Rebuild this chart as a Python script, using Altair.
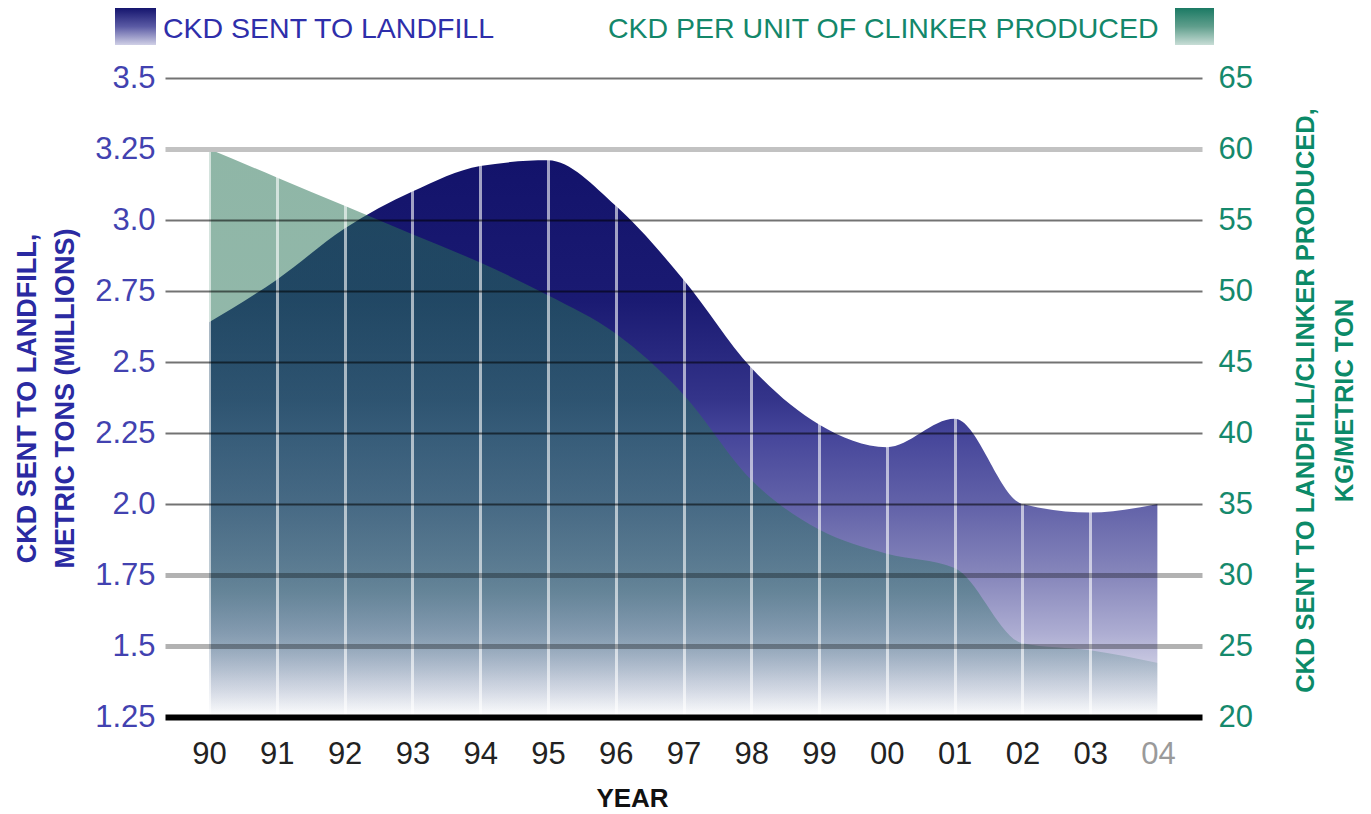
import altair as alt
import pandas as pd

# ---- data ----
years = ["90", "91", "92", "93", "94", "95", "96", "97", "98", "99", "00", "01", "02", "03", "04"]
landfill = [2.64, 2.79, 2.97, 3.10, 3.19, 3.21, 3.05, 2.79, 2.48, 2.28, 2.20, 2.30, 2.00, 1.97, 2.00]
per_clinker = [60.0, 58.0, 56.0, 54.0, 52.0, 49.7, 47.0, 42.7, 36.7, 33.2, 31.5, 30.5, 25.2, 24.7, 23.8]
left_ticks = [1.25, 1.5, 1.75, 2.0, 2.25, 2.5, 2.75, 3.0, 3.25, 3.5]
right_ticks = [20, 25, 30, 35, 40, 45, 50, 55, 60, 65]
legend_labels = ["CKD SENT TO LANDFILL", "CKD PER UNIT OF CLINKER PRODUCED"]
left_title = ["CKD SENT TO LANDFILL,", "METRIC TONS (MILLIONS)"]
right_title = ["CKD SENT TO LANDFILL/CLINKER PRODUCED,", "KG/METRIC TON"]
x_title = "YEAR"

df = pd.DataFrame({"year": years, "landfill": landfill, "clinker": per_clinker})
one = pd.DataFrame({"a": [0]})

FONT = "Liberation Sans, Arial, sans-serif"
W, H = 1037, 639

navy_grad = alt.Gradient(
    gradient="linear", x1=0, x2=0, y1=0, y2=1,
    stops=[
        alt.GradientStop(color="#13136b", offset=0),
        alt.GradientStop(color="#1a1a72", offset=0.25),
        alt.GradientStop(color="#34348a", offset=0.43),
        alt.GradientStop(color="#45459a", offset=0.49),
        alt.GradientStop(color="#6565aa", offset=0.63),
        alt.GradientStop(color="#8888bc", offset=0.75),
        alt.GradientStop(color="#adadd2", offset=0.85),
        alt.GradientStop(color="#e0e0ee", offset=0.95),
        alt.GradientStop(color="#ffffff", offset=1),
    ],
)
green_grad = alt.Gradient(
    gradient="linear", x1=0, x2=0, y1=0, y2=1,
    stops=[
        alt.GradientStop(color="rgba(40,115,85,0.52)", offset=0),
        alt.GradientStop(color="rgba(40,115,88,0.50)", offset=0.5),
        alt.GradientStop(color="rgba(40,115,95,0.42)", offset=0.78),
        alt.GradientStop(color="rgba(40,115,100,0.28)", offset=0.87),
        alt.GradientStop(color="rgba(40,115,100,0.10)", offset=0.94),
        alt.GradientStop(color="rgba(40,115,100,0.0)", offset=1),
    ],
)
navy_swatch = alt.Gradient(
    gradient="linear", x1=0, x2=0, y1=0, y2=1,
    stops=[alt.GradientStop(color="#15156e", offset=0),
           alt.GradientStop(color="#5a5aa4", offset=0.5),
           alt.GradientStop(color="#d0d0e6", offset=1)],
)
green_swatch = alt.Gradient(
    gradient="linear", x1=0, x2=0, y1=0, y2=1,
    stops=[alt.GradientStop(color="#1b7a64", offset=0),
           alt.GradientStop(color="#5f9e8c", offset=0.5),
           alt.GradientStop(color="#c8ddd6", offset=1)],
)

x_enc = alt.X(
    "year:O", sort=years,
    scale=alt.Scale(type="point", padding=0.65),
    axis=alt.Axis(
        title=x_title, labelAngle=0, labelFont=FONT, labelFontSize=31,
        labelColor={"condition": {"test": "datum.value == '04'", "value": "#9a9a9a"}, "value": "#222222"},
        labelPadding=46, labelBaseline="alphabetic",
        ticks=False, tickSize=0, domain=False,
        grid=True, gridColor="#ffffff", gridOpacity=0.6, gridWidth=3,
        titleFont=FONT, titleFontWeight="bold", titleFontSize=26, titleColor="#111111",
        titleX=467, titleY=89, titleBaseline="alphabetic", titleAlign="center",
        zindex=1,
    ),
)

grid_color = {
    "condition": [
        {"test": "abs(datum.value - 3.25) < 0.01", "value": "#c2c2c2"},
        {"test": "abs(datum.value - 1.25) < 0.01", "value": "#000000"},
        {"test": "datum.value > 1.3 && datum.value < 1.8", "value": "rgba(0,0,0,0.3)"},
    ],
    "value": "rgba(0,0,0,0.55)",
}
grid_width = {
    "condition": [
        {"test": "abs(datum.value - 3.25) < 0.01", "value": 5},
        {"test": "abs(datum.value - 1.25) < 0.01", "value": 6},
        {"test": "datum.value > 1.3 && datum.value < 1.8", "value": 5},
    ],
    "value": 2,
}

area_landfill = alt.Chart(df).mark_area(fill=navy_grad, interpolate="monotone").encode(
    x=x_enc,
    y=alt.Y(
        "landfill:Q",
        scale=alt.Scale(domain=[left_ticks[0], left_ticks[-1]], nice=False, zero=False),
        axis=alt.Axis(
            orient="left", values=left_ticks,
            labelExpr="datum.value % 0.5 == 0 ? format(datum.value, '.1f') : format(datum.value, '.2f')",
            labelFont=FONT, labelFontSize=31, labelColor="#4242b0", labelPadding=10,
            ticks=False, tickSize=0, domain=False,
            grid=True, gridColor=grid_color, gridWidth=grid_width,
            title=left_title, titleAngle=270, titleX=-130, titleY=320,
            titleBaseline="alphabetic", titleAlign="center",
            titleFont=FONT, titleFontWeight="bold", titleFontSize=27,
            titleColor="#2a2aa2", titleLineHeight=38,
            zindex=2,
        ),
    ),
    y2=alt.datum(left_ticks[0]),
)

area_clinker = alt.Chart(df).mark_area(fill=green_grad, interpolate="monotone").encode(
    x=alt.X("year:O", sort=years),
    y=alt.Y(
        "clinker:Q",
        scale=alt.Scale(domain=[right_ticks[0], right_ticks[-1]], nice=False, zero=False),
        axis=alt.Axis(
            orient="right", values=right_ticks,
            labelFont=FONT, labelFontSize=31, labelColor="#15896c", labelPadding=16,
            ticks=False, tickSize=0, domain=False, grid=False,
            title=right_title, titleAngle=270, titleX=111, titleY=322,
            titleBaseline="alphabetic", titleAlign="center",
            titleFont=FONT, titleFontWeight="bold", titleFontSize=25.5,
            titleColor="#0b8a68", titleLineHeight=39,
        ),
    ),
    y2=alt.datum(right_ticks[0]),
)

sw1 = alt.Chart(one).mark_rect(fill=navy_swatch).encode(
    x=alt.value(-50), x2=alt.value(-9), y=alt.value(-70), y2=alt.value(-33))
sw2 = alt.Chart(one).mark_rect(fill=green_swatch).encode(
    x=alt.value(1010), x2=alt.value(1049), y=alt.value(-70), y2=alt.value(-33))
t1 = alt.Chart(one).mark_text(
    text=legend_labels[0], font=FONT, fontSize=28.5, color="#2e2eaa",
    align="left", baseline="alphabetic").encode(x=alt.value(-2), y=alt.value(-40))
t2 = alt.Chart(one).mark_text(
    text=legend_labels[1], font=FONT, fontSize=28.5, color="#13876a",
    align="left", baseline="alphabetic").encode(x=alt.value(443), y=alt.value(-40))

chart = alt.layer(area_landfill, area_clinker, sw1, sw2, t1, t2).resolve_scale(
    y="independent"
).properties(
    width=W, height=H,
    autosize=alt.AutoSizeParams(type="none"),
    padding={"left": 157, "top": 70, "right": 158, "bottom": 96},
    background="white",
).configure_view(stroke=None)

chart.save("out.html", embed_options={"renderer": "svg", "actions": False})
